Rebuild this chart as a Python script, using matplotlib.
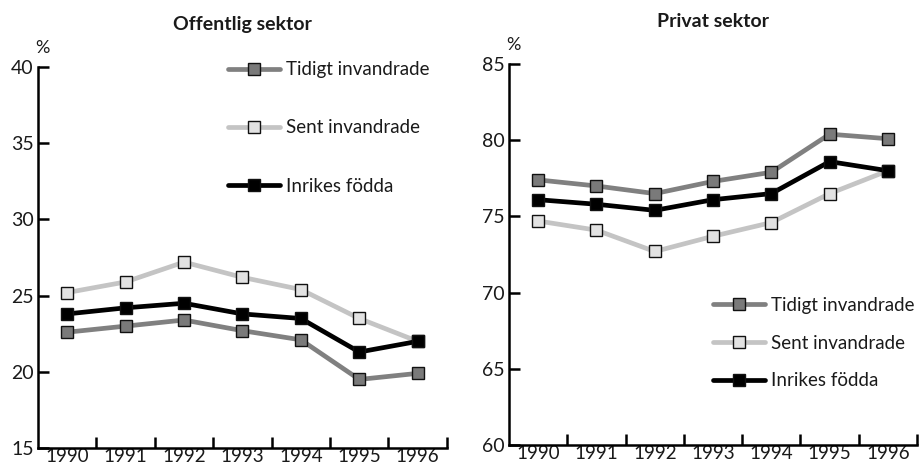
import matplotlib
matplotlib.use("Agg")
import matplotlib.pyplot as plt

years = ["1990", "1991", "1992", "1993", "1994", "1995", "1996"]
labels = ["Tidigt invandrade", "Sent invandrade", "Inrikes födda"]

# Offentlig sektor
off_tidigt = [22.6, 23.0, 23.4, 22.7, 22.1, 19.5, 19.9]
off_sent = [25.2, 25.9, 27.2, 26.2, 25.4, 23.5, 22.0]
off_inrikes = [23.8, 24.2, 24.5, 23.8, 23.5, 21.3, 22.0]

# Privat sektor
priv_tidigt = [77.4, 77.0, 76.5, 77.3, 77.9, 80.4, 80.1]
priv_sent = [74.7, 74.1, 72.7, 73.7, 74.6, 76.5, 78.0]
priv_inrikes = [76.1, 75.8, 75.4, 76.1, 76.5, 78.6, 78.0]

plt.rcParams['font.family'] = ['Lato', 'DejaVu Sans']

line_col = ["#808080", "#c4c4c4", "#000000"]
face_col = ["#7a7a7a", "#e2e2e2", "#000000"]
txt_col = "#1a1a1a"


def panel(ax, series, ylim, title, legend_loc, spacing):
    x = [i + 0.5 for i in range(len(years))]
    for vals, lab, lc, fc in zip(series, labels, line_col, face_col):
        ax.plot(x, vals, color=lc, lw=3.4, marker="s", ms=8,
                mfc=fc, mec="#111111", mew=1.0, label=lab,
                solid_capstyle="round", clip_on=False)
    ax.set_xlim(0, 7)
    ax.set_ylim(*ylim)
    ax.set_yticks(range(ylim[0], ylim[1] + 1, 5))
    ax.set_xticks(range(1, 8))
    ax.set_xticklabels([])
    ax.set_xticks(x, minor=True)
    ax.set_xticklabels(years, minor=True, fontsize=13.5, color=txt_col)
    ax.tick_params(axis="x", which="major", direction="in", length=8, width=1.8)
    ax.tick_params(axis="x", which="minor", length=0, pad=0)
    ax.tick_params(axis="y", direction="in", length=8, width=1.8, pad=3,
                   labelsize=14, labelcolor=txt_col)
    for s in ["top", "right"]:
        ax.spines[s].set_visible(False)
    for s in ["left", "bottom"]:
        ax.spines[s].set_linewidth(1.8)
    ax.set_title(title, fontsize=14, fontweight="bold", pad=27, color=txt_col)
    ax.text(0.012, 1.03, "%", transform=ax.transAxes, color=txt_col,
            fontsize=13, ha="center", va="bottom")
    leg = ax.legend(loc=legend_loc, frameon=False, fontsize=13.5,
                    handlelength=2.8, handletextpad=0.3,
                    labelspacing=spacing, borderaxespad=0.0)
    for t in leg.get_texts():
        t.set_color(txt_col)
    return leg


fig = plt.figure(figsize=(9.19, 4.68), dpi=100)
ax1 = fig.add_axes([0.0413, 0.0427, 0.445, 0.814])
ax2 = fig.add_axes([0.5539, 0.0491, 0.444, 0.814])

leg1 = panel(ax1, [off_tidigt, off_sent, off_inrikes], (15, 40),
             "Offentlig sektor", "upper right", 2.2)
leg1.set_bbox_to_anchor((0.975, 1.035), transform=ax1.transAxes)
leg2 = panel(ax2, [priv_tidigt, priv_sent, priv_inrikes], (60, 85),
             "Privat sektor", "lower right", 1.1)
leg2.set_bbox_to_anchor((1.012, 0.127), transform=ax2.transAxes)

fig.savefig("out.png", dpi=100)
